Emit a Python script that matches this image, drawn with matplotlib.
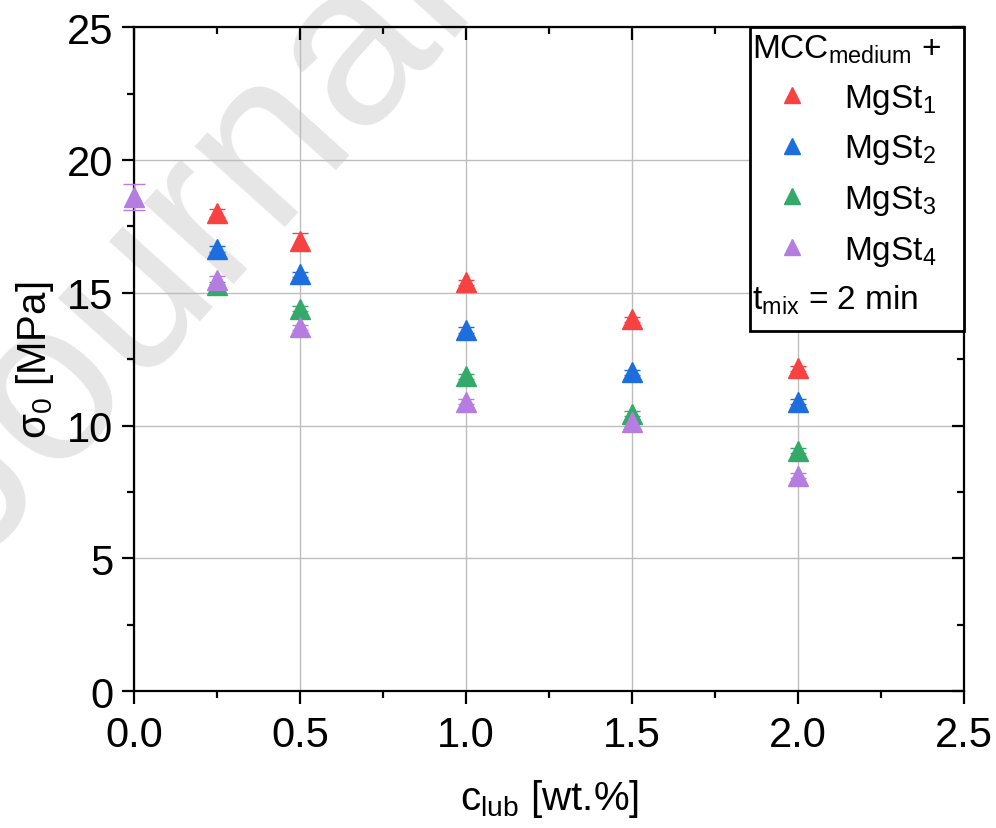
import matplotlib
matplotlib.use("Agg")
import matplotlib.pyplot as plt
from matplotlib.lines import Line2D
from matplotlib.patches import Rectangle
from matplotlib.ticker import MultipleLocator

plt.rcParams["font.family"] = ["Liberation Sans", "DejaVu Sans"]
plt.rcParams["mathtext.fontset"] = "custom"
plt.rcParams["mathtext.rm"] = "Liberation Sans"
plt.rcParams["mathtext.it"] = "Liberation Sans"

# lubricant concentration [wt.%]
c_lub = [0.25, 0.5, 1.0, 1.5, 2.0]

# sigma_0 [MPa] per MgSt grade
mgst1 = [18.0, 16.95, 15.4, 14.0, 12.15]
mgst2 = [16.65, 15.7, 13.6, 12.0, 10.9]
mgst3 = [15.3, 14.4, 11.85, 10.45, 9.06]
mgst4 = [15.5, 13.7, 10.9, 10.15, 8.12]
err1 = [0.15, 0.3, 0.1, 0.1, 0.1]
err2 = [0.1, 0.1, 0.1, 0.1, 0.1]
err3 = [0.1, 0.1, 0.1, 0.1, 0.1]
err4 = [0.15, 0.1, 0.1, 0.1, 0.1]

# pure MCC reference at 0 wt.%
c_ref = [0.0]
sigma_ref = [18.6]
err_ref = [0.5]

labels = ["MgSt$_{1}$", "MgSt$_{2}$", "MgSt$_{3}$", "MgSt$_{4}$"]
colors = ["#f84242", "#1d6ddf", "#33a96a", "#b57de0"]

fig = plt.figure(figsize=(9.96, 8.29), dpi=100)
ax = fig.add_axes([0.1345, 0.165, 0.8335, 0.801])
ax.set_zorder(2)
ax.set_facecolor("none")

# faint watermark behind the axes
fig.text(-0.024, 0.316, "Journal", fontsize=165,
         color="#e6e6e6", rotation=48, rotation_mode="anchor",
         ha="left", va="baseline", zorder=1)

for ys, es, col in zip([mgst1, mgst2, mgst3, mgst4],
                       [err1, err2, err3, err4], colors):
    ax.errorbar(c_lub, ys, yerr=es, fmt="^", color=col, ms=14, mec=col,
                capsize=6, elinewidth=1, capthick=1, zorder=3)

ax.errorbar(c_ref, sigma_ref, yerr=err_ref, fmt="^", color=colors[3], ms=14,
            capsize=8, elinewidth=1, capthick=1, zorder=3, clip_on=False)

ax.set_xlim(0, 2.5)
ax.set_ylim(0, 25)
ax.xaxis.set_major_locator(MultipleLocator(0.5))
ax.xaxis.set_minor_locator(MultipleLocator(0.25))
ax.yaxis.set_major_locator(MultipleLocator(5))
ax.yaxis.set_minor_locator(MultipleLocator(2.5))
ax.set_xticks([0.0, 0.5, 1.0, 1.5, 2.0, 2.5])
ax.set_xticklabels(["0.0", "0.5", "1.0", "1.5", "2.0", "2.5"])

ax.grid(True, which="major", color="#bdbdbd", lw=1)
ax.set_axisbelow(True)

for s in ax.spines.values():
    s.set_linewidth(1.6)

ax.tick_params(which="both", labelsize=30, width=1.6, top=True, right=True)
ax.tick_params(axis="x", which="both", direction="out", pad=8)
ax.tick_params(axis="y", which="both", direction="out", pad=6)
ax.tick_params(which="major", length=9)
ax.tick_params(which="minor", length=5)
# top and right ticks point into the plot
for t in ax.xaxis.get_major_ticks() + ax.xaxis.get_minor_ticks():
    t.tick2line.set_marker(3)
for t in ax.yaxis.get_major_ticks() + ax.yaxis.get_minor_ticks():
    t.tick2line.set_marker(0)

ax.set_xlabel("c$_{\\rm lub}$ [wt.%]", fontsize=29, labelpad=16)
ax.set_ylabel("σ$_{0}$ [MPa]", fontsize=29, labelpad=8)

# legend box in the top right corner
ax.add_patch(Rectangle((0.742, 0.543), 0.258, 0.457, transform=ax.transAxes,
                       fc="white", ec="black", lw=2, zorder=5, clip_on=False))
handles = [Line2D([], [], ls="none", marker="^", ms=12, color=c)
           for c in colors]
leg = ax.legend(handles=handles, labels=labels, loc="upper left",
                bbox_to_anchor=(0.7285, 1.012), frameon=False,
                fontsize=24, title="MCC$_{\\rm medium}$ +",
                title_fontsize=24, handlelength=2.4, handletextpad=0.35,
                labelspacing=0.5, borderaxespad=0)
leg._legend_box.align = "left"
leg.set_zorder(6)
ax.text(0.745, 0.59, "t$_{\\rm mix}$ = 2 min", transform=ax.transAxes,
        fontsize=24, ha="left", va="center", zorder=6)

fig.savefig("out.png", dpi=100)
